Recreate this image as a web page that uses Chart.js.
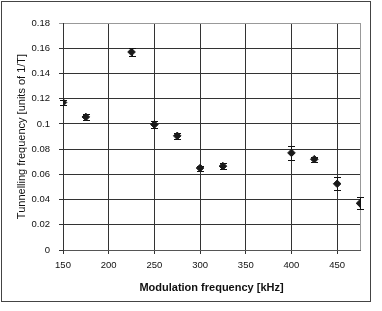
<!DOCTYPE html>
<html>
<head>
<meta charset="utf-8">
<script src="https://cdn.jsdelivr.net/npm/chart.js@4.4.0/dist/chart.umd.min.js"></script>
<style>
  html, body { margin: 0; padding: 0; background: #fff; }
  #wrap { width: 382px; height: 311px; }
</style>
</head>
<body>
<div id="wrap"><canvas id="tunnelChart" width="382" height="311"></canvas></div>
<script>
// Modulation frequency [kHz]
const modFreq = [150, 175, 225, 250, 275, 300, 325, 400, 425, 450, 475];
// Tunnelling frequency [units of 1/T] and its error
const tunnelFreq = [0.117, 0.1055, 0.157, 0.0995, 0.0905, 0.065, 0.0665, 0.077, 0.072, 0.0525, 0.037];
const tunnelErr = [0.002, 0.0024, 0.0028, 0.0028, 0.0022, 0.002, 0.0025, 0.0055, 0.002, 0.0053, 0.0048];

const xTicks = [150, 200, 250, 300, 350, 400, 450];
const yTicks = [0, 0.02, 0.04, 0.06, 0.08, 0.1, 0.12, 0.14, 0.16, 0.18];
const yTickLabels = ['0', '0.02', '0.04', '0.06', '0.08', '0.1', '0.12', '0.14', '0.16', '0.18'];

const FONT = "'Liberation Sans', Arial, sans-serif";

// Error bars + frame around the plot and the whole picture
const errorBars = {
  id: 'errorBars',
  beforeDraw(chart) {
    const ctx = chart.ctx;
    ctx.save();
    ctx.fillStyle = '#fff';
    ctx.fillRect(0, 0, chart.width, chart.height);
    ctx.restore();
  },
  beforeDatasetsDraw(chart) {
    const ctx = chart.ctx;
    const xs = chart.scales.x, ys = chart.scales.y;
    ctx.save();
    // right edge of the plot
    ctx.strokeStyle = '#999';
    ctx.lineWidth = 1;
    const r = Math.round(chart.chartArea.right) + 0.5;
    ctx.beginPath();
    ctx.moveTo(r, chart.chartArea.top);
    ctx.lineTo(r, chart.chartArea.bottom);
    ctx.stroke();
    // error bars
    ctx.strokeStyle = '#111';
    modFreq.forEach(function(f, i) {
      const x = Math.round(xs.getPixelForValue(f)) + 0.5;
      const y1 = Math.round(ys.getPixelForValue(tunnelFreq[i] + tunnelErr[i])) + 0.5;
      const y2 = Math.round(ys.getPixelForValue(tunnelFreq[i] - tunnelErr[i])) + 0.5;
      ctx.beginPath();
      ctx.moveTo(x, y1); ctx.lineTo(x, y2);
      ctx.moveTo(x - 3.5, y1); ctx.lineTo(x + 3.5, y1);
      ctx.moveTo(x - 3.5, y2); ctx.lineTo(x + 3.5, y2);
      ctx.stroke();
    });
    ctx.restore();
  },
  afterDraw(chart) {
    const ctx = chart.ctx;
    ctx.save();
    ctx.strokeStyle = '#444';
    ctx.lineWidth = 1;
    ctx.strokeRect(1.5, 1.5, 369, 300);
    ctx.restore();
  }
};

new Chart(document.getElementById('tunnelChart').getContext('2d'), {
  type: 'scatter',
  data: {
    datasets: [{
      label: 'Tunnelling frequency',
      data: modFreq.map((f, i) => ({ x: f, y: tunnelFreq[i] })),
      pointStyle: 'rectRot',
      pointRadius: 3.8,
      backgroundColor: '#1a1a1a',
      borderColor: '#1a1a1a',
      borderWidth: 1
    }]
  },
  options: {
    responsive: false,
    animation: false,
    layout: { padding: { left: 0, top: 23, right: 22, bottom: 0 } },
    plugins: {
      legend: { display: false },
      tooltip: { enabled: false }
    },
    scales: {
      x: {
        type: 'linear',
        min: 150,
        max: 475,
        afterBuildTicks: scale => { scale.ticks = xTicks.map(v => ({ value: v })); },
        afterFit: scale => { scale.height = 61; },
        grid: { color: '#333', lineWidth: 1, tickLength: 4 },
        border: { color: '#555' },
        ticks: {
          color: '#111',
          padding: 6,
          maxRotation: 0,
          font: { family: FONT, size: 9.5 }
        },
        title: {
          display: true,
          text: 'Modulation frequency [kHz]',
          color: '#111',
          font: { family: FONT, size: 11, weight: 'bold' },
          padding: { top: 0, bottom: 16 }
        }
      },
      y: {
        min: 0,
        max: 0.18,
        afterBuildTicks: scale => { scale.ticks = yTicks.map(v => ({ value: v })); },
        afterFit: scale => { scale.width = 63; },
        grid: {
          color: ctx => (ctx.tick && ctx.tick.value === 0.18) ? '#999' : '#333',
          lineWidth: 1,
          tickLength: 4
        },
        border: { color: '#333' },
        ticks: {
          color: '#111',
          padding: 9,
          font: { family: FONT, size: 9.5 },
          callback: value => yTickLabels[yTicks.indexOf(value)]
        },
        title: {
          display: true,
          text: 'Tunnelling frequency [units of 1/T]',
          color: '#111',
          font: { family: FONT, size: 11 },
          padding: { top: 15.5, bottom: 0 }
        }
      }
    }
  },
  plugins: [errorBars]
});
</script>
</body>
</html>
